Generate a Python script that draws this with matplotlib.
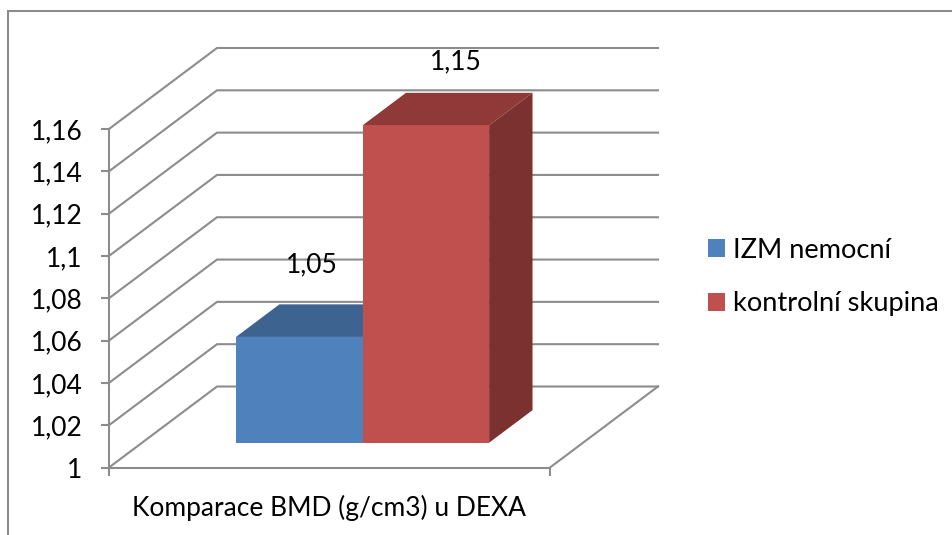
import matplotlib
matplotlib.use("Agg")
import matplotlib.pyplot as plt
from matplotlib.patches import Polygon, Patch
from matplotlib.lines import Line2D

plt.rcParams['font.family'] = ['Lato', 'DejaVu Sans']

series_names = ['IZM nemocní', 'kontrolní skupina']
series_values = [1.05, 1.15]
value_labels = ['1,05', '1,15']
tick_values = [1, 1.02, 1.04, 1.06, 1.08, 1.1, 1.12, 1.14, 1.16]
tick_labels = ['1', '1,02', '1,04', '1,06', '1,08', '1,1', '1,12', '1,14', '1,16']
category_label = 'Komparace BMD (g/cm3) u DEXA'

W, H = 952, 535
GRID = '#8c8c8c'
FRONT = ['#4F81BD', '#C0504D']
TOP = ['#3D6390', '#8F3A38']
SIDE = ['#355680', '#7B3130']
FS = 19.0
LEG_FS = 19.6

fig = plt.figure(figsize=(W / 100, H / 100), dpi=100)
x0, x1, y_bot, y_top = 109, 550, 467.5, 129
ax = fig.add_axes([x0 / W, 1 - y_bot / H, (x1 - x0) / W, (y_bot - y_top) / H])
ax.set_xlim(0, 1)
ax.set_ylim(1, 1.16)
ax.patch.set_visible(False)

# oblique depth projection, expressed in data units
DX = 108 / (x1 - x0)
DY = 81 / (y_bot - y_top) * 0.16


def P(x, v, d=0.0):
    return (x + d * DX, v + d * DY)


def poly(points, **kw):
    ax.add_patch(Polygon(points, closed=True, clip_on=False, **kw))


# walls and floor gridlines
for v in tick_values:
    ax.add_line(Line2D(*zip(P(0, v), P(0, v, 1), P(1, v, 1)), color=GRID, lw=1.5,
                       clip_on=False, zorder=1, solid_joinstyle='miter'))
ax.add_line(Line2D(*zip(P(1, 1), P(1, 1, 1)), color=GRID, lw=1.5, clip_on=False, zorder=1))

# bars
GAP = 0.213
BAR_W = (1 - 2 * GAP) / len(series_values)
D0, D1 = 0.306, 0.708
label_offsets = [(13, 72), (30, 64)]
for i, v in enumerate(series_values):
    a = GAP + i * BAR_W
    b = a + BAR_W
    z = 3 + i
    poly([P(b, 1, D0), P(b, v, D0), P(b, v, D1), P(b, 1, D1)], fc=SIDE[i], ec='none', zorder=z)
    poly([P(a, v, D0), P(b, v, D0), P(b, v, D1), P(a, v, D1)], fc=TOP[i], ec='none', zorder=z)
    poly([P(a, 1, D0), P(b, 1, D0), P(b, v, D0), P(a, v, D0)], fc=FRONT[i], ec='none', zorder=z)
    ax.annotate(value_labels[i], xy=P((a + b) / 2, v, D0), xytext=label_offsets[i],
                textcoords='offset pixels', ha='center', va='center', fontsize=FS,
                color='black', zorder=10, annotation_clip=False)

# axes
for s in ('top', 'right'):
    ax.spines[s].set_visible(False)
for s in ('left', 'bottom'):
    ax.spines[s].set_color(GRID)
    ax.spines[s].set_linewidth(1.5)
    ax.spines[s].set_zorder(2)
ax.set_yticks(tick_values)
ax.set_yticklabels(tick_labels)
ax.set_xticks([0, 1])
ax.set_xticklabels(['', ''])
ax.tick_params(axis='y', length=6, width=1.5, color=GRID, labelsize=FS, pad=13, labelcolor='black')
ax.tick_params(axis='x', length=6, width=1.5, color=GRID)
ax.set_xlabel(category_label, fontsize=FS, color='black', labelpad=10)

# legend
handles = [Patch(fc=c, ec='none') for c in FRONT]
fig.legend(handles, series_names, loc='center left', bbox_to_anchor=(708 / W, 1 - 277 / H),
           frameon=False, fontsize=LEG_FS, handlelength=0.625, handleheight=0.625,
           handletextpad=0.29, labelspacing=1.06, borderpad=0, borderaxespad=0)

# chart-area frame (cropped on the right and bottom in the reference)
fig.add_artist(Line2D([7.5 / W, 7.5 / W, 1], [0, 1 - 10.5 / H, 1 - 10.5 / H],
                      color=GRID, lw=1.5, transform=fig.transFigure,
                      solid_joinstyle='miter'))

fig.savefig('out.png', dpi=100)
